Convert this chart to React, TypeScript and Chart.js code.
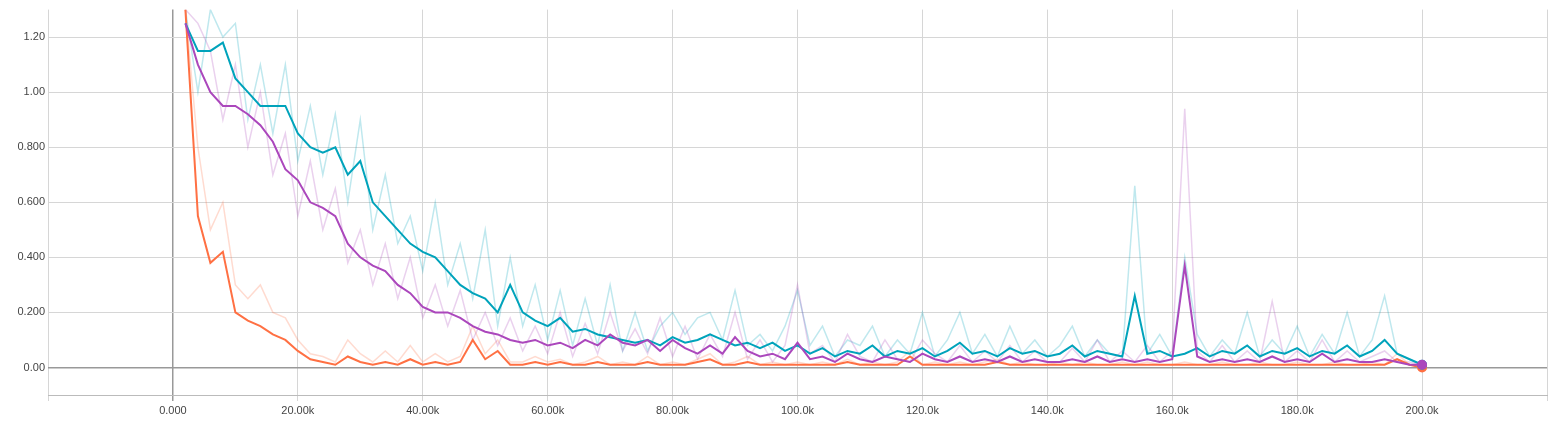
import { useEffect, useRef } from "react";
import { Chart, registerables } from "chart.js";

Chart.register(...registerables);

// steps, 2k..200k
const steps = Array.from({ length: 100 }, (_, i) => (i + 1) * 2000);

const orangeSmooth = [
  1.3, 0.55, 0.38, 0.42, 0.2, 0.17, 0.15, 0.12, 0.1, 0.06,
  0.03, 0.02, 0.01, 0.04, 0.02, 0.01, 0.02, 0.01, 0.03, 0.01,
  0.02, 0.01, 0.02, 0.1, 0.03, 0.06, 0.01, 0.01, 0.02, 0.01,
  0.02, 0.01, 0.01, 0.02, 0.01, 0.01, 0.01, 0.02, 0.01, 0.01,
  0.01, 0.02, 0.03, 0.01, 0.01, 0.02, 0.01, 0.01, 0.01, 0.01,
  0.01, 0.01, 0.01, 0.02, 0.01, 0.01, 0.01, 0.01, 0.04, 0.01,
  0.01, 0.01, 0.01, 0.01, 0.01, 0.02, 0.01, 0.01, 0.01, 0.01,
  0.01, 0.01, 0.01, 0.01, 0.01, 0.01, 0.01, 0.01, 0.01, 0.01,
  0.01, 0.01, 0.01, 0.01, 0.01, 0.01, 0.01, 0.01, 0.01, 0.01,
  0.01, 0.01, 0.01, 0.01, 0.01, 0.01, 0.01, 0.03, 0.01, 0.0,
];
const orangeRaw = [
  1.3, 0.8, 0.5, 0.6, 0.3, 0.25, 0.3, 0.2, 0.18, 0.1,
  0.05, 0.04, 0.02, 0.1, 0.05, 0.02, 0.06, 0.02, 0.08, 0.02,
  0.05, 0.02, 0.04, 0.15, 0.05, 0.1, 0.02, 0.02, 0.04, 0.02,
  0.03, 0.01, 0.02, 0.04, 0.01, 0.02, 0.01, 0.04, 0.01, 0.02,
  0.01, 0.03, 0.05, 0.01, 0.02, 0.04, 0.01, 0.02, 0.01, 0.02,
  0.01, 0.02, 0.01, 0.03, 0.01, 0.02, 0.01, 0.02, 0.06, 0.01,
  0.02, 0.01, 0.02, 0.01, 0.02, 0.03, 0.01, 0.02, 0.01, 0.01,
  0.02, 0.01, 0.02, 0.01, 0.01, 0.02, 0.01, 0.02, 0.01, 0.01,
  0.02, 0.01, 0.01, 0.02, 0.01, 0.01, 0.02, 0.01, 0.01, 0.02,
  0.01, 0.01, 0.02, 0.01, 0.01, 0.02, 0.01, 0.05, 0.01, 0.0,
];
const purpleSmooth = [
  1.25, 1.1, 1.0, 0.95, 0.95, 0.92, 0.88, 0.82, 0.72, 0.68,
  0.6, 0.58, 0.55, 0.45, 0.4, 0.37, 0.35, 0.3, 0.27, 0.22,
  0.2, 0.2, 0.18, 0.15, 0.13, 0.12, 0.1, 0.09, 0.1, 0.08,
  0.09, 0.07, 0.1, 0.08, 0.12, 0.09, 0.08, 0.1, 0.06, 0.1,
  0.07, 0.05, 0.08, 0.05, 0.11, 0.06, 0.04, 0.05, 0.03, 0.09,
  0.03, 0.04, 0.02, 0.05, 0.03, 0.02, 0.04, 0.03, 0.02, 0.05,
  0.03, 0.02, 0.04, 0.02, 0.03, 0.02, 0.04, 0.02, 0.03, 0.02,
  0.02, 0.03, 0.02, 0.04, 0.02, 0.03, 0.02, 0.03, 0.02, 0.03,
  0.37, 0.04, 0.02, 0.03, 0.02, 0.03, 0.02, 0.04, 0.02, 0.03,
  0.02, 0.05, 0.02, 0.03, 0.02, 0.02, 0.03, 0.02, 0.01, 0.01,
];
const purpleRaw = [
  1.3, 1.25, 1.15, 0.9, 1.1, 0.8, 1.0, 0.7, 0.85, 0.55,
  0.75, 0.5, 0.65, 0.38, 0.5, 0.3, 0.45, 0.25, 0.4, 0.18,
  0.3, 0.15, 0.28, 0.1, 0.2, 0.08, 0.18, 0.06, 0.15, 0.05,
  0.2, 0.04, 0.16, 0.05, 0.2, 0.06, 0.14, 0.05, 0.18, 0.04,
  0.15, 0.03, 0.12, 0.04, 0.2, 0.03, 0.1, 0.02, 0.08, 0.3,
  0.05, 0.08, 0.02, 0.12, 0.04, 0.02, 0.1, 0.03, 0.02, 0.1,
  0.05, 0.02, 0.08, 0.02, 0.06, 0.02, 0.08, 0.02, 0.06, 0.02,
  0.02, 0.07, 0.02, 0.1, 0.02, 0.06, 0.02, 0.08, 0.02, 0.06,
  0.94, 0.06, 0.02, 0.08, 0.02, 0.06, 0.02, 0.24, 0.02, 0.06,
  0.02, 0.1, 0.02, 0.06, 0.02, 0.04, 0.06, 0.02, 0.02, 0.01,
];
const tealSmooth = [
  1.25, 1.15, 1.15, 1.18, 1.05, 1.0, 0.95, 0.95, 0.95, 0.85,
  0.8, 0.78, 0.8, 0.7, 0.75, 0.6, 0.55, 0.5, 0.45, 0.42,
  0.4, 0.35, 0.3, 0.27, 0.25, 0.2, 0.3, 0.2, 0.17, 0.15,
  0.18, 0.13, 0.14, 0.12, 0.11, 0.1, 0.09, 0.1, 0.08, 0.11,
  0.09, 0.1, 0.12, 0.1, 0.08, 0.09, 0.07, 0.09, 0.06, 0.08,
  0.05, 0.07, 0.04, 0.06, 0.05, 0.08, 0.04, 0.06, 0.05, 0.07,
  0.04, 0.06, 0.09, 0.05, 0.06, 0.04, 0.07, 0.05, 0.06, 0.04,
  0.05, 0.08, 0.04, 0.06, 0.05, 0.04, 0.26, 0.05, 0.06, 0.04,
  0.05, 0.07, 0.04, 0.06, 0.05, 0.08, 0.04, 0.06, 0.05, 0.07,
  0.04, 0.06, 0.05, 0.08, 0.04, 0.06, 0.1, 0.05, 0.03, 0.01,
];
const tealRaw = [
  1.3, 1.0, 1.3, 1.2, 1.25, 0.9, 1.1, 0.85, 1.1, 0.75,
  0.95, 0.7, 0.92, 0.6, 0.9, 0.5, 0.7, 0.45, 0.55, 0.35,
  0.6, 0.3, 0.45, 0.25, 0.5, 0.15, 0.4, 0.15, 0.3, 0.1,
  0.28, 0.08, 0.25, 0.08, 0.3, 0.06, 0.2, 0.06, 0.15, 0.2,
  0.12, 0.18, 0.2, 0.1, 0.28, 0.08, 0.12, 0.06, 0.15, 0.28,
  0.08, 0.15, 0.04, 0.1, 0.08, 0.15, 0.04, 0.1, 0.05, 0.2,
  0.04, 0.1, 0.2, 0.05, 0.12, 0.04, 0.15, 0.05, 0.1, 0.04,
  0.08, 0.15, 0.04, 0.1, 0.05, 0.04, 0.66, 0.05, 0.12, 0.04,
  0.4, 0.12, 0.04, 0.1, 0.05, 0.2, 0.04, 0.1, 0.05, 0.15,
  0.04, 0.12, 0.05, 0.2, 0.04, 0.1, 0.26, 0.05, 0.03, 0.01,
];

const yTicks = [0, 0.2, 0.4, 0.6, 0.8, 1.0, 1.2];
const yLabels = ["0.00", "0.200", "0.400", "0.600", "0.800", "1.00", "1.20"];
const xTicks = [-20000, 0, 20000, 40000, 60000, 80000, 100000, 120000, 140000, 160000, 180000, 200000, 220000];
const xLabels = ["", "0.000", "20.00k", "40.00k", "60.00k", "80.00k", "100.0k", "120.0k", "140.0k", "160.0k", "180.0k", "200.0k", ""];

const ORANGE = "#ff7043";
const PURPLE = "#ab47bc";
const TEAL = "#00a3bb";

const pts = (vals: number[]) => vals.map((v, i) => ({ x: steps[i], y: v }));

export default function App() {
  const ref = useRef<HTMLCanvasElement | null>(null);

  useEffect(() => {
    document.body.style.margin = "0";
    if (!ref.current) return;
    const last = steps.length - 1;
    const smooth = (label: string, vals: number[], color: string) => ({
      label,
      data: pts(vals),
      borderColor: color,
      backgroundColor: color,
      borderWidth: 2,
      pointRadius: (c: any) => (c.dataIndex === last ? 4 : 0),
      tension: 0,
    });
    const raw = (label: string, vals: number[], color: string) => ({
      label,
      data: pts(vals),
      borderColor: color + "40",
      borderWidth: 1.5,
      pointRadius: 0,
      tension: 0,
    });
    const chart = new Chart(ref.current, {
      type: "line",
      data: {
        datasets: [
          smooth("purple", purpleSmooth, PURPLE),
          smooth("teal", tealSmooth, TEAL),
          smooth("orange", orangeSmooth, ORANGE),
          raw("purple raw", purpleRaw, PURPLE),
          raw("teal raw", tealRaw, TEAL),
          raw("orange raw", orangeRaw, ORANGE),
        ] as any,
      },
      options: {
        animation: false,
        responsive: true,
        maintainAspectRatio: false,
        layout: { padding: { top: 8, right: 5 } },
        plugins: { legend: { display: false }, tooltip: { enabled: false } },
        scales: {
          x: {
            type: "linear",
            min: -20000,
            max: 220000,
            afterBuildTicks: (s: any) => { s.ticks = xTicks.map((v) => ({ value: v })); },
            afterFit: (s: any) => { s.height = 28; },
            ticks: {
              autoSkip: false,
              maxRotation: 0,
              color: "#444",
              font: { family: "Liberation Sans", size: 11 },
              callback: (v: any) => xLabels[xTicks.indexOf(Number(v))] ?? "",
            },
            grid: {
              color: (c: any) => (c.tick && c.tick.value === 0 ? "#999" : "#d6d6d6"),
              lineWidth: (c: any) => (c.tick && c.tick.value === 0 ? 1.5 : 1),
              drawTicks: true,
              tickLength: 6,
            },
            border: { color: "#bbb" },
          },
          y: {
            min: -0.1,
            max: 1.3,
            afterBuildTicks: (s: any) => { s.ticks = yTicks.map((v) => ({ value: v })); },
            afterFit: (s: any) => { s.width = 48; },
            ticks: {
              color: "#444",
              font: { family: "Liberation Sans", size: 11 },
              callback: (v: any) => {
                const i = yTicks.findIndex((t) => Math.abs(t - Number(v)) < 1e-6);
                return i >= 0 ? yLabels[i] : "";
              },
            },
            grid: {
              color: (c: any) => (c.tick && c.tick.value === 0 ? "#999" : "#d6d6d6"),
              lineWidth: (c: any) => (c.tick && c.tick.value === 0 ? 1.5 : 1),
              drawTicks: false,
            },
            border: { display: false },
          },
        },
      },
    });
    return () => chart.destroy();
  }, []);

  return (
    <div style={{ width: 1553, height: 423, position: "relative" }}>
      <canvas ref={ref} />
    </div>
  );
}
